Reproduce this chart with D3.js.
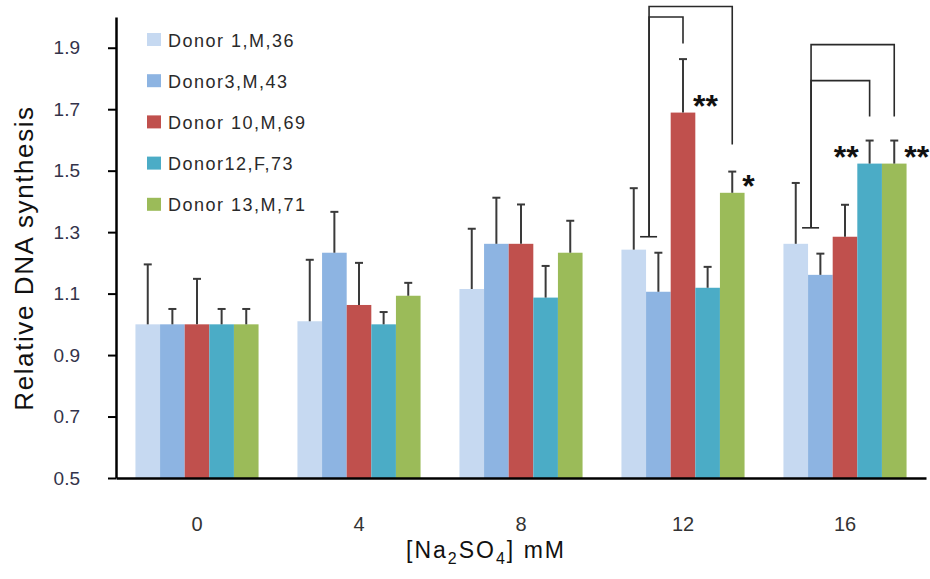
<!DOCTYPE html>
<html>
<head>
<meta charset="utf-8">
<script src="https://cdn.jsdelivr.net/npm/d3@7"></script>
<style>
	body { margin: 0; background: #fff; }
	svg { display: block; font-family: "Liberation Sans", Arial, sans-serif; }
</style>
</head>
<body>
<svg id="viz"></svg>
<script>
// concentrations on the x axis
var doses = ["0", "4", "8", "12", "16"];
var donors = ["Donor 1,M,36", "Donor3,M,43", "Donor 10,M,69", "Donor12,F,73", "Donor 13,M,71"];

// mean relative synthesis per donor, one value per dose
var donor1 = [1.00, 1.01, 1.115, 1.243, 1.262];
var donor3 = [1.00, 1.233, 1.262, 1.106, 1.161];
var donor10 = [1.00, 1.063, 1.262, 1.689, 1.285];
var donor12 = [1.00, 1.00, 1.087, 1.119, 1.523];
var donor13 = [1.00, 1.093, 1.233, 1.428, 1.523];

// error bar (upper) lengths
var err1 = [0.195, 0.20, 0.196, 0.20, 0.198];
var err3 = [0.05, 0.133, 0.15, 0.127, 0.069];
var err10 = [0.148, 0.137, 0.128, 0.174, 0.104];
var err12 = [0.05, 0.04, 0.103, 0.068, 0.075];
var err13 = [0.05, 0.042, 0.104, 0.069, 0.075];

var yTicks = [0.5, 0.7, 0.9, 1.1, 1.3, 1.5, 1.7, 1.9];

// significance brackets: left leg next to donor 3, right leg on target bar
var brackets = [
	{ dose: "12", to: 4, top: 2.034, end: 1.585, foot: 1.285 },
	{ dose: "12", to: 2, top: 2.0, end: 1.914, foot: 1.285 },
	{ dose: "16", to: 4, top: 1.91, end: 1.676, foot: 1.314 },
	{ dose: "16", to: 3, top: 1.793, end: 1.676, foot: 1.314 }
];
var stars = [
	{ dose: "12", donor: 2, label: "**", side: "right" },
	{ dose: "12", donor: 4, label: "*", side: "right" },
	{ dose: "16", donor: 3, label: "**", side: "left" },
	{ dose: "16", donor: 4, label: "**", side: "right" }
];

var palette = ["#c6d9f1", "#8db4e2", "#c0504d", "#4bacc6", "#9bbb59"];

var means = [donor1, donor3, donor10, donor12, donor13];
var errs = [err1, err3, err10, err12, err13];

var width = 930, height = 579;
var plot = { left: 116, right: 926, top: 17, bottom: 478 };

var svg = d3.select("#viz")
	.attr("width", width)
	.attr("height", height);

var x0 = d3.scaleBand()
	.domain(doses)
	.range([plot.left, plot.right])
	.paddingInner(0.24)
	.paddingOuter(0.12);

var x1 = d3.scaleBand()
	.domain(d3.range(donors.length))
	.range([0, x0.bandwidth()]);

var y = d3.scaleLinear()
	.domain([0.5, 2.0])
	.range([plot.bottom, plot.top]);

var rows = [];
doses.forEach(function(dose, i) {
	donors.forEach(function(donor, j) {
		rows.push({ dose: dose, donor: j, value: means[j][i], err: errs[j][i] });
	});
});

var barX = function(d) { return x0(d.dose) + x1(d.donor); };
var barMid = function(dose, j) { return x0(dose) + x1(j) + x1.bandwidth() / 2; };

// bars
svg.append("g").selectAll("rect")
	.data(rows)
	.enter().append("rect")
	.attr("x", barX)
	.attr("y", function(d) { return y(d.value); })
	.attr("width", x1.bandwidth())
	.attr("height", function(d) { return y(0.5) - y(d.value); })
	.attr("fill", function(d) { return palette[d.donor]; });

// error bars
var eb = svg.append("g")
	.attr("stroke", "#3a3a3a")
	.attr("stroke-width", 2);

eb.selectAll(".stem")
	.data(rows)
	.enter().append("line")
	.attr("x1", function(d) { return barMid(d.dose, d.donor); })
	.attr("x2", function(d) { return barMid(d.dose, d.donor); })
	.attr("y1", function(d) { return y(d.value); })
	.attr("y2", function(d) { return y(d.value + d.err); });

eb.selectAll(".cap")
	.data(rows)
	.enter().append("line")
	.attr("x1", function(d) { return barMid(d.dose, d.donor) - 4; })
	.attr("x2", function(d) { return barMid(d.dose, d.donor) + 4; })
	.attr("y1", function(d) { return y(d.value + d.err); })
	.attr("y2", function(d) { return y(d.value + d.err); });

// y axis
var yAxis = d3.axisLeft(y)
	.tickValues(yTicks)
	.tickFormat(d3.format(".1f"))
	.tickSize(8)
	.tickSizeOuter(0)
	.tickPadding(28);

var gy = svg.append("g")
	.attr("transform", "translate(" + plot.left + ",0)")
	.call(yAxis);
gy.select(".domain").attr("stroke", "#000").attr("stroke-width", 2.5);
gy.selectAll(".tick line").attr("stroke", "#000").attr("stroke-width", 2);
gy.selectAll(".tick text")
	.attr("fill", "#33334a")
	.style("font-size", "19px");

// x axis
var xAxis = d3.axisBottom(x0)
	.tickSize(0)
	.tickSizeOuter(0)
	.tickPadding(39);

var gx = svg.append("g")
	.attr("transform", "translate(0," + plot.bottom + ")")
	.call(xAxis);
gx.select(".domain").attr("stroke", "#000").attr("stroke-width", 2.5);
gx.selectAll(".tick text")
	.attr("fill", "#333")
	.style("font-size", "20px");

// axis titles
svg.append("text")
	.attr("transform", "translate(33,258) rotate(-90)")
	.attr("text-anchor", "middle")
	.attr("fill", "#111")
	.style("font-size", "26px")
	.style("letter-spacing", "1.6px")
	.text("Relative DNA synthesis");

var xt = svg.append("text")
	.attr("x", 486)
	.attr("y", 558)
	.attr("text-anchor", "middle")
	.attr("fill", "#111")
	.style("font-size", "23px")
	.style("letter-spacing", "2px");
xt.append("tspan").text("[Na");
xt.append("tspan").attr("dy", 6).style("font-size", "16px").text("2");
xt.append("tspan").attr("dy", -6).text("SO");
xt.append("tspan").attr("dy", 6).style("font-size", "16px").text("4");
xt.append("tspan").attr("dy", -6).text("] mM");

// legend
var legend = svg.append("g").selectAll("g")
	.data(donors)
	.enter().append("g")
	.attr("transform", function(d, i) { return "translate(147," + (40 + i * 41.2) + ")"; });

legend.append("rect")
	.attr("x", 0)
	.attr("y", -7)
	.attr("width", 14)
	.attr("height", 13)
	.attr("fill", function(d, i) { return palette[i]; });

legend.append("text")
	.attr("x", 21)
	.attr("y", 6.5)
	.attr("fill", "#2a2a2a")
	.style("font-size", "18px")
	.style("letter-spacing", "1.5px")
	.text(function(d) { return d; });

// significance brackets
var bk = svg.append("g")
	.attr("fill", "none")
	.attr("stroke", "#2a2a2a")
	.attr("stroke-width", 1.6);

bk.selectAll("path")
	.data(brackets)
	.enter().append("path")
	.attr("d", function(d) {
		var lx = x0(d.dose) + x1(1) + 3;
		var rx = barMid(d.dose, d.to);
		return "M" + lx + "," + y(d.foot) + "V" + y(d.top) + "H" + rx + "V" + y(d.end);
	});

bk.selectAll(".foot")
	.data(doses.filter(function(d) { return d == "12" || d == "16"; }))
	.enter().append("line")
	.attr("x1", function(d) { return x0(d) + x1(1) + 3 - 9; })
	.attr("x2", function(d) { return x0(d) + x1(1) + 3 + 8; })
	.attr("y1", function(d) { return y(d == "12" ? 1.285 : 1.314); })
	.attr("y2", function(d) { return y(d == "12" ? 1.285 : 1.314); });

// stars
svg.append("g").selectAll("text")
	.data(stars)
	.enter().append("text")
	.attr("x", function(d) {
		var m = barMid(d.dose, d.donor);
		return d.side == "right" ? m + 10 : m - 11;
	})
	.attr("y", function(d) {
		var i = doses.indexOf(d.dose);
		return y(means[d.donor][i]) + 4;
	})
	.attr("text-anchor", function(d) { return d.side == "right" ? "start" : "end"; })
	.attr("fill", "#111")
	.style("font-size", "32px")
	.style("font-weight", "bold")
	.text(function(d) { return d.label; });
</script>
</body>
</html>
